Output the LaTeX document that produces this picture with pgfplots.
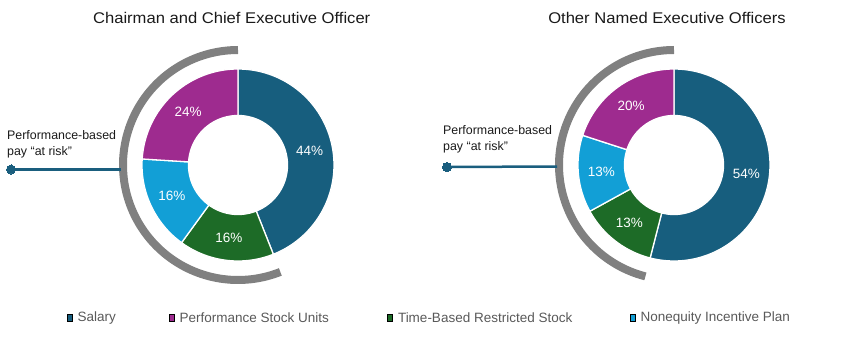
\documentclass[border=0pt]{standalone}
\usepackage{pgfplots}
\pgfplotsset{compat=1.18}
\usepackage{fontspec}
\setmainfont{Liberation Sans}
\newfontfamily\widefont[FakeStretch=1.07]{Liberation Sans}
\definecolor{salary}{HTML}{175E7E}
\definecolor{psu}{HTML}{9E2B8F}
\definecolor{tbrs}{HTML}{1D6B27}
\definecolor{nip}{HTML}{129FD6}
\definecolor{arcgray}{HTML}{808080}
\definecolor{conn}{HTML}{1A5E7E}
\definecolor{leggray}{HTML}{595959}
\definecolor{titlec}{HTML}{1A1A1A}

% ---- data (percent of pay) ----
% Chairman and CEO
\def\LSal{44}\def\LPsu{24}\def\LTb{16}\def\LNi{16}
% Other NEOs
\def\RSal{54}\def\RPsu{20}\def\RTb{13}\def\RNi{13}

% geometry
\def\Ro{96}\def\Ri{49.5}\def\Rl{73}\def\Rarcr{115}
\def\LX{238}\def\RX{674}\def\CY{173}

% angles (clockwise from top): Salary, Time-based, Nonequity, PSU
\pgfmathsetmacro{\LangA}{90}
\pgfmathsetmacro{\LangB}{\LangA-3.6*\LSal}
\pgfmathsetmacro{\LangC}{\LangB-3.6*\LTb}
\pgfmathsetmacro{\LangD}{\LangC-3.6*\LNi}
\pgfmathsetmacro{\LangE}{\LangD-3.6*\LPsu}
\pgfmathsetmacro{\RangA}{90}
\pgfmathsetmacro{\RangB}{\RangA-3.6*\RSal}
\pgfmathsetmacro{\RangC}{\RangB-3.6*\RTb}
\pgfmathsetmacro{\RangD}{\RangC-3.6*\RNi}
\pgfmathsetmacro{\RangE}{\RangD-3.6*\RPsu}
\pgfmathsetmacro{\Larc}{90+3.6*(\LPsu+\LTb+\LNi)}
\pgfmathsetmacro{\Rarc}{90+3.6*(\RPsu+\RTb+\RNi)}

\newcommand{\donutwedge}[5]{%
  \addplot[fill=#5, draw=white, line width=1.3pt, domain=0:3, samples=301, variable=\t]
  ({#1 + (\t<1 ? \Ro : (\t<2 ? \Ro-(\Ro-\Ri)*(\t-1) : \Ri))*cos(\t<1 ? #3+(#4-#3)*\t : (\t<2 ? #4 : #4+(#3-#4)*(\t-2)))},
   {#2 + (\t<1 ? \Ro : (\t<2 ? \Ro-(\Ro-\Ri)*(\t-1) : \Ri))*sin(\t<1 ? #3+(#4-#3)*\t : (\t<2 ? #4 : #4+(#3-#4)*(\t-2)))}) -- cycle;
}
\newcommand{\pctlabel}[4]{%
  \node[text=white, font=\fontsize{13.5}{15}\selectfont]
    at (axis cs:{#1+\Rl*cos((#2+#3)/2)},{\CY+\Rl*sin((#2+#3)/2)}) {#4\%};
}
\newcommand{\legitem}[3]{%
  \addplot[only marks, mark=square*, mark size=3.4pt,
    mark options={xscale=0.72, fill=#2, draw=none}] coordinates {(#1,20)};
  \node[anchor=west, inner sep=0pt, text=leggray, font=\fontsize{13.5}{15}\selectfont]
    at (axis cs:#1+7.8,20) {#3};
}

\begin{document}
\begin{tikzpicture}
\begin{axis}[
  scale only axis, width=868pt, height=338pt,
  xmin=0, xmax=868, ymin=0, ymax=338,
  hide axis, clip=false,
]
% left donut
\donutwedge{\LX}{\CY}{\LangA}{\LangB}{salary}
\donutwedge{\LX}{\CY}{\LangB}{\LangC}{tbrs}
\donutwedge{\LX}{\CY}{\LangC}{\LangD}{nip}
\donutwedge{\LX}{\CY}{\LangD}{\LangE}{psu}
% right donut
\donutwedge{\RX}{\CY}{\RangA}{\RangB}{salary}
\donutwedge{\RX}{\CY}{\RangB}{\RangC}{tbrs}
\donutwedge{\RX}{\CY}{\RangC}{\RangD}{nip}
\donutwedge{\RX}{\CY}{\RangD}{\RangE}{psu}
% at-risk arcs
\addplot[draw=arcgray, line width=8pt, domain=90:\Larc, samples=120, variable=\t]
  ({\LX+\Rarcr*cos(\t)},{\CY+\Rarcr*sin(\t)});
\addplot[draw=arcgray, line width=8pt, domain=90:\Rarc, samples=120, variable=\t]
  ({\RX+\Rarcr*cos(\t)},{\CY+\Rarcr*sin(\t)});
% connectors
\addplot[draw=conn, line width=2.5pt, mark=*, mark size=4.5pt, mark indices={1},
  mark options={fill=conn, draw=conn, line width=0pt}] coordinates {(11,168.5) (121,168.5)};
\addplot[draw=conn, line width=2.5pt, mark=*, mark size=4.5pt, mark indices={1},
  mark options={fill=conn, draw=conn, line width=0pt}] coordinates {(447,171) (557,171.5)};
% legend
\legitem{69.5}{salary}{Salary}
\legitem{171.5}{psu}{Performance Stock Units}
\legitem{390}{tbrs}{Time-Based Restricted Stock}
\legitem{632.5}{nip}{Nonequity Incentive Plan}
% percent labels
\pctlabel{\LX}{\LangA}{\LangB}{\LSal}
\pctlabel{\LX}{\LangB}{\LangC}{\LTb}
\pctlabel{\LX}{\LangC}{\LangD}{\LNi}
\pctlabel{\LX}{\LangD}{\LangE}{\LPsu}
\pctlabel{\RX}{\RangA}{\RangB}{\RSal}
\pctlabel{\RX}{\RangB}{\RangC}{\RTb}
\pctlabel{\RX}{\RangC}{\RangD}{\RNi}
\pctlabel{\RX}{\RangD}{\RangE}{\RPsu}
% titles
\node[anchor=base, text=titlec, font=\widefont\fontsize{15.5}{17}\selectfont] at (axis cs:231.7,314) {Chairman and Chief Executive Officer};
\node[anchor=base, text=titlec, font=\widefont\fontsize{15.5}{17}\selectfont] at (axis cs:667,314) {Other Named Executive Officers};
% at-risk labels
\node[anchor=base west, inner sep=0pt, text=titlec, font=\fontsize{12.4}{14}\selectfont] at (axis cs:7,198.7) {Performance-based};
\node[anchor=base west, inner sep=0pt, text=titlec, font=\fontsize{12.4}{14}\selectfont] at (axis cs:7,182.3) {pay “at risk”};
\node[anchor=base west, inner sep=0pt, text=titlec, font=\fontsize{12.4}{14}\selectfont] at (axis cs:443,204) {Performance-based};
\node[anchor=base west, inner sep=0pt, text=titlec, font=\fontsize{12.4}{14}\selectfont] at (axis cs:443,187) {pay “at risk”};
\end{axis}
\path (current axis.south west) rectangle (current axis.north east);
\end{tikzpicture}
\end{document}
